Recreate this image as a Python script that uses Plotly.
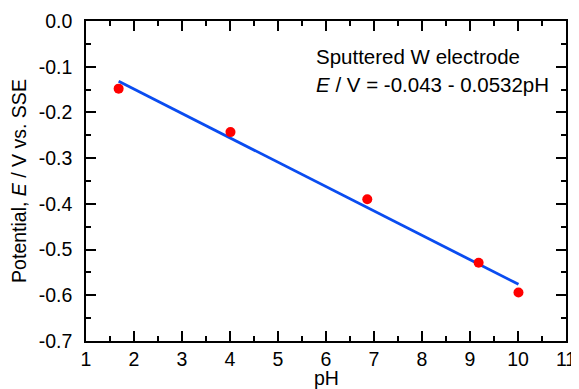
import plotly.graph_objects as go

ph = [1.68, 4.01, 6.86, 9.18, 10.01]
potential = [-0.148, -0.243, -0.390, -0.529, -0.594]
fit_x = [1.68, 10.01]
fit_y = [-0.132, -0.576]

x_tick_vals = [1, 2, 3, 4, 5, 6, 7, 8, 9, 10, 11]
x_tick_text = ["1", "2", "3", "4", "5", "6", "7", "8", "9", "10", "11"]
y_tick_vals = [0.0, -0.1, -0.2, -0.3, -0.4, -0.5, -0.6, -0.7]
y_tick_text = ["0.0", "-0.1", "-0.2", "-0.3", "-0.4", "-0.5", "-0.6", "-0.7"]

font = "Liberation Sans, Arial, sans-serif"
tick_size = 19.5

fig = go.Figure()
fig.add_trace(go.Scatter(x=fit_x, y=fit_y, mode="lines",
                         line=dict(color="#0A4CF0", width=2.8), showlegend=False))
fig.add_trace(go.Scatter(x=ph, y=potential, mode="markers",
                         marker=dict(color="#FF0000", size=10), showlegend=False))

axis_common = dict(showline=True, linecolor="black", linewidth=1.5, mirror="allticks",
                   ticks="inside", ticklen=10, tickwidth=1.5, tickcolor="black",
                   showgrid=False, zeroline=False, automargin=False,
                   tickfont=dict(family=font, size=tick_size, color="black"))

fig.update_xaxes(range=[1, 11], tickvals=x_tick_vals, ticktext=x_tick_text,
                 minor=dict(ticks="inside", ticklen=5, tickwidth=1.5, tickcolor="black",
                            dtick=0.5, tick0=1),
                 **axis_common)
fig.update_yaxes(range=[-0.7, 0.0], tickvals=y_tick_vals, ticktext=y_tick_text,
                 ticklabelstandoff=8,
                 minor=dict(ticks="inside", ticklen=5, tickwidth=1.5, tickcolor="black",
                            dtick=0.05, tick0=0),
                 title=dict(text="Potential, <i>E</i> / V vs. SSE",
                            font=dict(family=font, size=tick_size, color="black"), standoff=12),
                 **axis_common)

# x-axis title placed as an annotation so it can sit low, as in the reference
fig.add_annotation(x=0.5, y=-0.115, xref="paper", yref="paper", xanchor="center", yanchor="middle",
                   text="pH", showarrow=False,
                   font=dict(family=font, size=tick_size, color="black"))

fig.add_annotation(x=0.474, y=0.889, xref="paper", yref="paper", xanchor="left", yanchor="middle",
                   text="Sputtered W electrode", showarrow=False,
                   font=dict(family=font, size=20.5, color="black"))
fig.add_annotation(x=0.474, y=0.802, xref="paper", yref="paper", xanchor="left", yanchor="middle",
                   text="<i>E</i> / V = -0.043 - 0.0532pH", showarrow=False,
                   font=dict(family=font, size=20.5, color="black"))

# the page body adds an 8px offset; size the figure so the plot lands where the reference has it
fig.update_layout(width=571, height=389, margin=dict(l=78, r=13, t=13, b=56),
                  plot_bgcolor="white", paper_bgcolor="white")
fig.write_html("out.html")
